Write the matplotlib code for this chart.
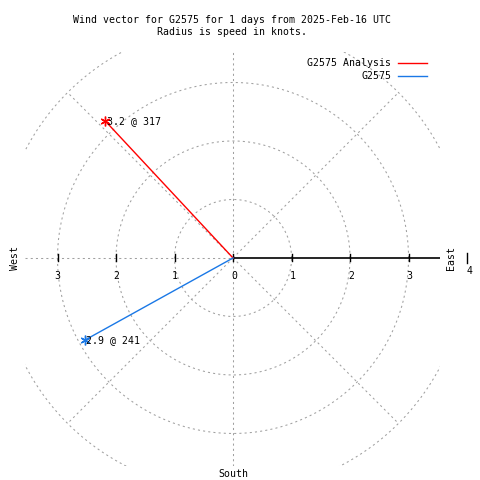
import numpy as np
import matplotlib
matplotlib.use("Agg")
import matplotlib.pyplot as plt

# ---- data ----
series_names = ["G2575 Analysis", "G2575"]
speeds = [3.2, 2.9]          # knots
directions = [317, 241]      # degrees clockwise from north
series_colors = ["#ff0000", "#1a78e6"]
ring_radii = [1, 2, 3, 4]
right_ticks = [1, 2, 3]
left_ticks = [1, 2, 3]
title_lines = ["Wind vector for G2575 for 1 days from 2025-Feb-16 UTC",
               "Radius is speed in knots."]

FONT = "DejaVu Sans Mono"
FS = 7.1
GRID = "#a0a0a0"
DASH = (0, (2, 3))

fig = plt.figure(figsize=(4.8, 4.8), dpi=100)
ax = fig.add_axes([25 / 480, 1 - 466 / 480, 415 / 480, 414 / 480])
ax.set_xlim(-3.556, 3.538)
ax.set_ylim(-3.556, 3.521)
ax.set_aspect("auto")
ax.axis("off")

# rings
th = np.linspace(0, 2 * np.pi, 721)
for r in ring_radii:
    ax.plot(r * np.cos(th), r * np.sin(th), color=GRID, lw=0.75, ls=DASH, clip_on=True)

# diagonals to outer ring
rmax = max(ring_radii)
for a in [45, 135, 225, 315]:
    t = np.radians(a)
    ax.plot([0, rmax * np.sin(t)], [0, rmax * np.cos(t)], color=GRID, lw=0.75, ls=DASH)

# vertical grid line and left horizontal dashed
ax.plot([0, 0], [-3.556, 3.521], color=GRID, lw=0.75, ls=DASH)
ax.plot([-3.556, 0], [0, 0], color=GRID, lw=0.75, ls=DASH)
# solid right axis
ax.plot([0, 3.538], [0, 0], color="black", lw=1.2)

# ticks
tick_h = 0.06
for v in right_ticks:
    ax.plot([v, v], [-tick_h, tick_h], color="black", lw=1.0)
for v in left_ticks:
    ax.plot([-v, -v], [-tick_h, tick_h], color="black", lw=1.0)
ax.plot([0, 0], [-tick_h, tick_h], color="black", lw=1.0)
ax.plot([rmax, rmax], [-0.09, 0.09], color="black", lw=1.0, clip_on=False)

lab_y = -0.31
for v in [0] + right_ticks:
    ax.text(v + 0.02, lab_y, str(v), ha="center", va="center", fontsize=FS, family=FONT)
for v in left_ticks:
    ax.text(-v, lab_y, str(v), ha="center", va="center", fontsize=FS, family=FONT)
ax.text(rmax + 0.04, -0.22, str(rmax), ha="center", va="center", fontsize=FS,
        family=FONT, clip_on=False)

# direction labels
ax.text(3.725, 0, "East", rotation=90, ha="center", va="center", fontsize=FS, family=FONT, clip_on=False)
ax.text(-3.73, 0, "West", rotation=90, ha="center", va="center", fontsize=FS, family=FONT, clip_on=False)
ax.text(0, -3.60, "South", ha="center", va="top", fontsize=FS, family=FONT, clip_on=False)

# vectors
for name, s, d, c in zip(series_names, speeds, directions, series_colors):
    t = np.radians(d)
    x, y = s * np.sin(t), s * np.cos(t)
    ax.plot([0, x], [0, y], color=c, lw=1.0, zorder=5)
    ax.plot([x], [y], marker=(6, 2, 0), color=c, ms=7, mew=1.0, zorder=6, ls="none")
    ax.text(x + 0.03, y, f"{s:.1f} @ {d}", ha="left", va="center", fontsize=FS,
            family=FONT, zorder=7)

# title
fig.text(232 / 480, 1 - 20 / 480, title_lines[0], ha="center", va="center", fontsize=FS, family=FONT)
fig.text(232 / 480, 1 - 32 / 480, title_lines[1], ha="center", va="center", fontsize=FS, family=FONT)

# legend
for i, (name, c) in enumerate(zip(series_names, series_colors)):
    yy = 1 - (63 + 13 * i) / 480
    fig.text(391 / 480, yy, name, ha="right", va="center", fontsize=FS, family=FONT)
    fig.add_artist(matplotlib.lines.Line2D([398 / 480, 427 / 480], [yy, yy], color=c, lw=1.0,
                                           transform=fig.transFigure))

fig.savefig("out.png", dpi=100)
